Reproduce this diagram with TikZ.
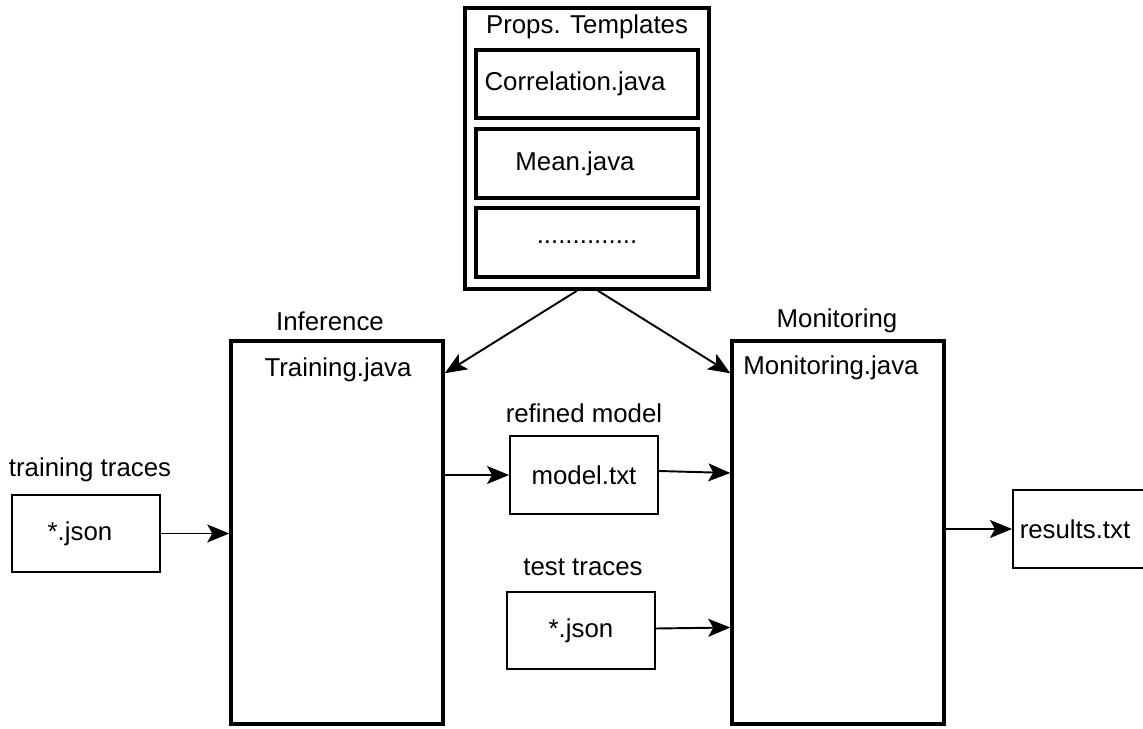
\documentclass[tikz,border=0pt]{standalone}
\usepackage{fontspec}
\setmainfont{Liberation Sans}
\usetikzlibrary{arrows.meta,calc}
\begin{document}
\begin{tikzpicture}[x=0.02cm,y=-0.02cm,
  every node/.style={font=\fontsize{14.7}{17}\selectfont, inner sep=0pt},
  thinbox/.style={draw, line width=1.1pt, minimum width=#1},
  thickbox/.style={draw, line width=2pt},
  arr/.style={line width=1.1pt, -{Stealth[length=0.44cm,width=0.36cm,inset=0.1cm]}},
  lbl/.style={}]
\useasboundingbox (0,0) rectangle (1143,729);
\clip (0,0) rectangle (1143,729);
% Props templates
\node[thickbox, minimum width=4.88cm, minimum height=5.62cm] (props) at (587,148.5) {};
\node[lbl] (propsT) at (587,27) {Props. Templates};
\node[thickbox, minimum width=4.44cm, minimum height=1.36cm] (corr) at (587,84) {Correlation.java\hspace*{0.48cm}};
\node[thickbox, minimum width=4.44cm, minimum height=1.38cm] (mean) at (587,163.5) {Mean.java\hspace*{0.48cm}};
\node[thickbox, minimum width=4.44cm, minimum height=1.38cm] (dots) at (587,242.5) {..............};
% big boxes
\node[thickbox, minimum width=4.24cm, minimum height=7.66cm] (train) at (337,532.5) {};
\node[thickbox, minimum width=4.24cm, minimum height=7.66cm] (mon) at (838,532.5) {};
\node[lbl] (inf) at (330,321) {Inference};
\node[lbl] (monl) at (837,321) {Monitoring};
\node[lbl] (trainT) at (338,370) {Training.java};
\node[lbl] (monT) at (831,368) {Monitoring.java};
% small boxes
\node[thinbox=2.96cm, minimum height=1.54cm] (tj) at (86,533.5) {*.json\hspace*{0.24cm}};
\node[lbl] (tjl) at (90,470) {training traces};
\node[thinbox=2.96cm, minimum height=1.56cm] (model) at (584,475) {model.txt};
\node[lbl] (modell) at (584,413) {refined model};
\node[thinbox=2.96cm, minimum height=1.54cm] (test) at (581,630.5) {*.json};
\node[lbl] (testl) at (583,567) {test traces};
\node[thinbox=3.4cm, minimum height=1.56cm, anchor=west] (res) at (1012,529) {};
\node[lbl] (resT) at (1075,529) {results.txt};
% arrows
\draw[arr] ([xshift=-0.2cm]props.south) -- ([yshift=-0.68cm]train.north east);
\draw[arr] ([xshift=0.22cm]props.south) -- ([yshift=-0.68cm]mon.north west);
\draw[arr] (tj.east) -- (tj.east -| train.west);
\draw[arr] (train.east |- model.west) -- (model.west);
\draw[arr] ([yshift=0.08cm]model.east) -- ([yshift=0.04cm]model.east -| mon.west);
\draw[arr] ([yshift=0.04cm]test.east) -- ([yshift=0.06cm]test.east -| mon.west);
\draw[arr] (mon.east |- res.west) -- (res.west);
\end{tikzpicture}
\end{document}
